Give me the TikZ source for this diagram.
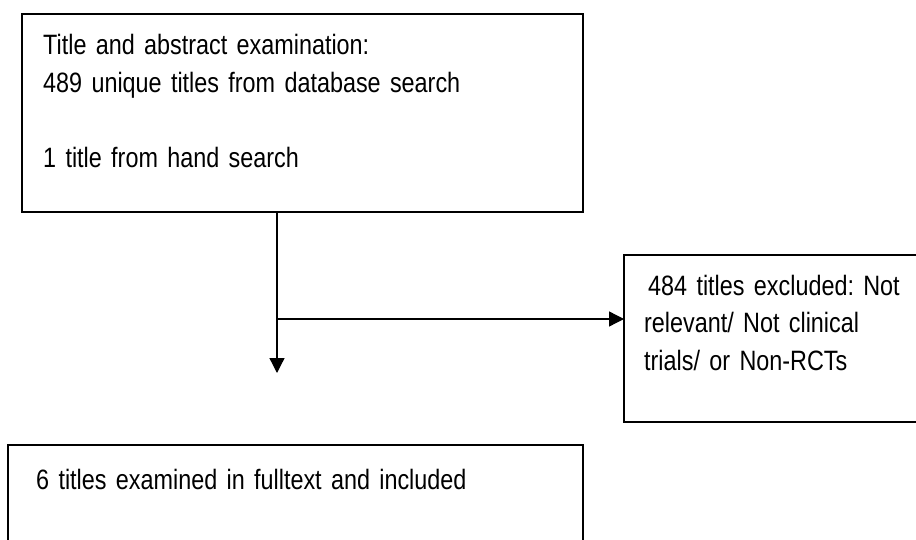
\documentclass[tikz,border=0pt]{standalone}
\usepackage{fontspec}
\setmainfont{Liberation Sans}[FakeStretch=0.835]
\usetikzlibrary{arrows.meta}
% body font of the chart: narrow sans with tight interword space
\newcommand\chartfont{\fontsize{28}{37.5}\selectfont
  \fontdimen2\font=6.2pt \fontdimen3\font=0pt \fontdimen4\font=0pt
  \frenchspacing}
\begin{document}
\begin{tikzpicture}[x=1pt,y=-1pt,
  box/.style={draw=black, line width=1.6pt, rectangle, anchor=north west,
    inner sep=0pt, outer sep=0pt},
  boxtext/.style={anchor=base west, inner sep=0pt, align=left,
    text width=560pt, font=\chartfont},
  flow/.style={draw=black, line width=1.3pt,
    -{Triangle[length=15pt,width=15pt]}}]
\useasboundingbox (0,0) rectangle (916,540);
\fill[white] (0,0) rectangle (916,540);

% screening stage
\node[box, minimum width=561pt, minimum height=198pt] (screen) at (22,14) {};
\node[boxtext] (screentxt) at (43,55)
  {Title and abstract examination:\\489 unique titles from database search\\[37.5pt]1 title from hand search};

% excluded records (runs past the right margin)
\node[box, minimum width=320pt, minimum height=167pt] (excl) at (624,255) {};
\node[boxtext] (excltxt) at (644,295)
  {\hspace*{4pt}484 titles excluded: Not\\relevant/ Not clinical\\trials/ or Non-RCTs};

% included studies (runs past the bottom margin)
\node[box, minimum width=575pt, minimum height=120pt] (incl) at (8,445) {};
\node[boxtext] (incltxt) at (36,489)
  {6 titles examined in fulltext and included};

% connectors
\coordinate (split) at (277,319);
\coordinate (down) at (277,373);
\draw[flow] (screen.south -| split) -- (down);
\draw[flow] (split) -- (split -| excl.west);
\end{tikzpicture}
\end{document}
